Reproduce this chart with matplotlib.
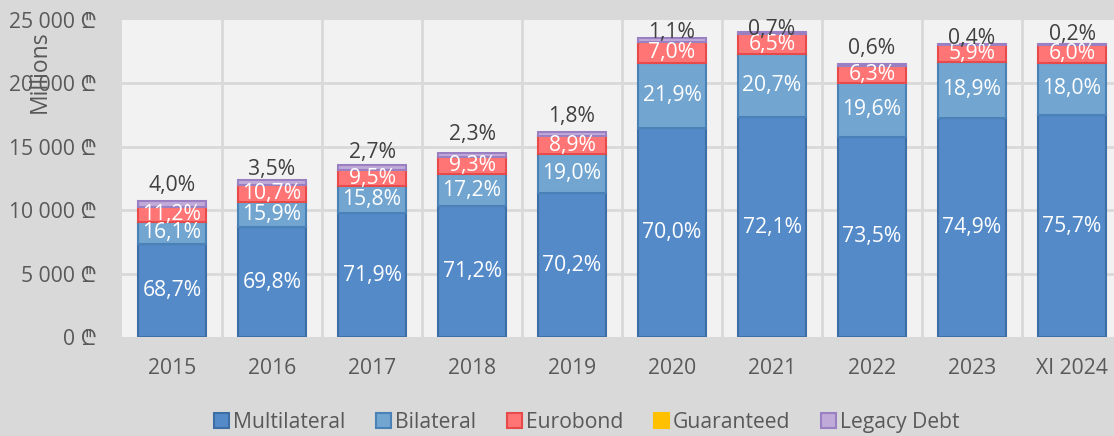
import matplotlib.pyplot as plt
import numpy as np

categories = ['2015', '2016', '2017', '2018', '2019', '2020', '2021', '2022', '2023', 'XI 2024']
totals = [10700, 12400, 13550, 14500, 16150, 23550, 24050, 21500, 23100, 23100]
multilateral_pct = [68.7, 69.8, 71.9, 71.2, 70.2, 70.0, 72.1, 73.5, 74.9, 75.7]
bilateral_pct = [16.1, 15.9, 15.8, 17.2, 19.0, 21.9, 20.7, 19.6, 18.9, 18.0]
eurobond_pct = [11.2, 10.7, 9.5, 9.3, 8.9, 7.0, 6.5, 6.3, 5.9, 6.0]
guaranteed_pct = [0.0, 0.0, 0.0, 0.0, 0.0, 0.0, 0.0, 0.0, 0.0, 0.0]
legacy_pct = [4.0, 3.5, 2.7, 2.3, 1.8, 1.1, 0.7, 0.6, 0.4, 0.2]
yticks = [0, 5000, 10000, 15000, 20000, 25000]

# label offsets above bar top (pixels) - styling only
legacy_offsets_px = [16, 10, 13, 19, 16, 6, 3, 16, 5, 10]

FONT = ['Open Sans', 'Noto Sans', 'DejaVu Sans']
plt.rcParams['font.family'] = FONT

W, H = 1114, 436
fig = plt.figure(figsize=(W / 100, H / 100), dpi=100)
fig.patch.set_facecolor('#d9d9d9')
ax = fig.add_axes([122 / W, (H - 337) / H, 1000 / W, 317 / H])
ax.set_facecolor('#f2f2f2')

x = np.arange(len(categories))
tot = np.array(totals, dtype=float)
series = [
    ('Multilateral', multilateral_pct, '#558ac9', '#3d6fa6', 'white'),
    ('Bilateral', bilateral_pct, '#72a6d1', '#4a82b8', 'white'),
    ('Eurobond', eurobond_pct, '#ff7575', '#e84a4a', 'white'),
    ('Guaranteed', guaranteed_pct, '#ffc000', '#ffc000', None),
    ('Legacy Debt', legacy_pct, '#bfaad8', '#9a80c2', None),
]

bottom = np.zeros(len(x))
fs = 15.2
for name, pct, fc, ec, tc in series:
    vals = tot * np.array(pct) / 100.0
    ax.bar(x, vals, width=0.68, bottom=bottom, color=fc, edgecolor=ec,
           linewidth=1.5, label=name, zorder=3)
    if tc is not None:
        for xi, b, v, p in zip(x, bottom, vals, pct):
            ax.text(xi, b + v / 2, f"{p:.1f}%".replace('.', ','), ha='center',
                    va='center', color=tc, fontsize=fs, zorder=4)
    bottom = bottom + vals

for xi, top, p, off in zip(x, bottom, legacy_pct, legacy_offsets_px):
    ax.annotate(f"{p:.1f}%".replace('.', ','), (xi, top), xytext=(0, off * 0.72),
                textcoords='offset points', ha='center', va='center',
                color='#404040', fontsize=fs, zorder=4, annotation_clip=False)

ax.set_xlim(-0.5, len(x) - 0.5)
ax.set_ylim(0, 25000)
ax.set_yticks(yticks)
ax.set_yticklabels([f"{v:,}".replace(',', ' ') + ' ₾' for v in yticks])
ax.set_xticks(x)
ax.set_xticklabels(categories)
ax.tick_params(axis='both', length=0, labelsize=fs, colors='#595959')
ax.tick_params(axis='y', pad=18)
ax.tick_params(axis='x', pad=15)
for s in ax.spines.values():
    s.set_visible(False)
for yv in yticks[1:-1]:
    ax.axhline(yv, color='#d9d9d9', lw=2, zorder=1)
for xv in np.arange(0.5, len(x) - 0.5, 1):
    ax.axvline(xv, color='#d9d9d9', lw=2, zorder=1)

fig.text(40 / W, 1 - 72 / H, 'Millions', rotation=90, ha='center', va='center',
         fontsize=16.5, color='#595959')

handles, labels = ax.get_legend_handles_labels()
leg = fig.legend(handles, labels, loc='center', bbox_to_anchor=(587 / W, 1 - 422 / H),
                 ncol=5, frameon=False, fontsize=fs, handlelength=0.7, handleheight=0.7,
                 handletextpad=0.2, columnspacing=1.45, labelcolor='#595959')

fig.savefig('out.png', dpi=100, facecolor=fig.get_facecolor())
